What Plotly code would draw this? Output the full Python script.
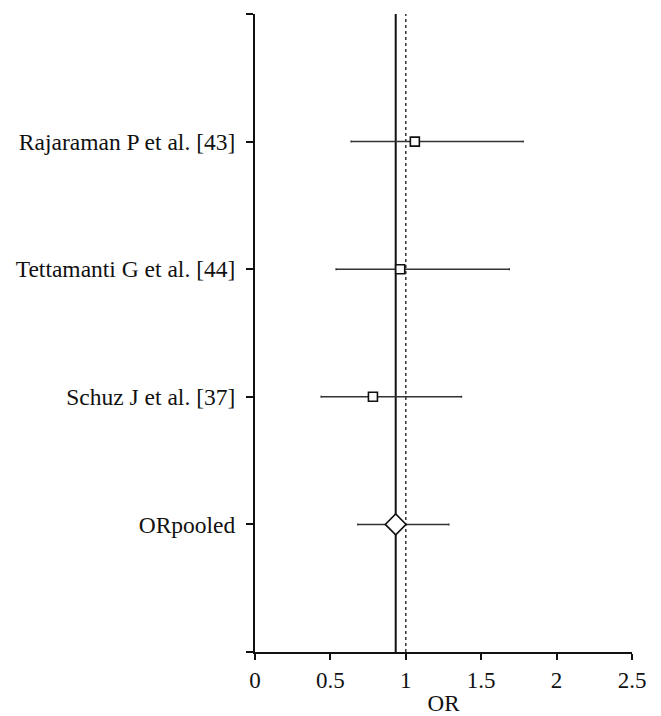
import plotly.graph_objects as go

studies = ["Rajaraman P et al. [43]", "Tettamanti G et al. [44]", "Schuz J et al. [37]"]
study_or = [1.06, 0.963, 0.782]
study_lo = [0.638, 0.538, 0.439]
study_hi = [1.778, 1.686, 1.369]
study_y = [4, 3, 2]

pooled_label = "ORpooled"
pooled_or = 0.933
pooled_lo = 0.682
pooled_hi = 1.285
pooled_y = 1

null_value = 1.0
x_ticks = [0, 0.5, 1, 1.5, 2, 2.5]
x_tick_labels = ["0", "0.5", "1", "1.5", "2", "2.5"]

font_family = "Liberation Serif, Times New Roman, serif"
fig = go.Figure()

# reference lines
fig.add_trace(go.Scatter(x=[pooled_or, pooled_or], y=[0, 5], mode="lines",
                         line=dict(color="#111111", width=2), hoverinfo="skip", showlegend=False))
fig.add_trace(go.Scatter(x=[null_value, null_value], y=[0, 5], mode="lines",
                         line=dict(color="#333333", width=1.5, dash="dot"), hoverinfo="skip", showlegend=False))

# studies
fig.add_trace(go.Scatter(
    x=study_or, y=study_y, mode="markers",
    marker=dict(symbol="square", size=9, color="white", line=dict(color="#111111", width=1.6)),
    error_x=dict(type="data", symmetric=False,
                 array=[h - o for h, o in zip(study_hi, study_or)],
                 arrayminus=[o - l for o, l in zip(study_or, study_lo)],
                 color="#333333", thickness=1.5, width=1),
    showlegend=False))

# pooled
fig.add_trace(go.Scatter(
    x=[pooled_or], y=[pooled_y], mode="markers",
    marker=dict(symbol="diamond", size=16, color="white", line=dict(color="#111111", width=1.6)),
    error_x=dict(type="data", symmetric=False,
                 array=[pooled_hi - pooled_or], arrayminus=[pooled_or - pooled_lo],
                 color="#333333", thickness=1.5, width=1),
    showlegend=False))

fig.update_layout(
    width=661, height=716,
    margin=dict(l=255, r=29, t=14, b=64),
    paper_bgcolor="white", plot_bgcolor="white",
    font=dict(family=font_family, size=23, color="#111111"),
    xaxis=dict(range=[0, 2.5], tickvals=x_ticks, ticktext=x_tick_labels, automargin=False,
               showgrid=False, zeroline=False, showline=True, linecolor="#111111", linewidth=2,
               ticks="outside", ticklen=6, tickwidth=2, tickcolor="#111111",
               title=dict(text="OR", standoff=10, font=dict(size=23))),
    yaxis=dict(range=[0, 5], tickvals=[0, 1, 2, 3, 4, 5], automargin=False,
               ticktext=["", pooled_label] + studies[::-1] + [""],
               ticklabelstandoff=6, tickfont=dict(size=23.5),
               showgrid=False, zeroline=False, showline=True, linecolor="#111111", linewidth=2,
               ticks="outside", ticklen=7, tickwidth=2, tickcolor="#111111"),
)

fig.write_html("out.html", post_script="document.body.style.margin='0';",
               config={"displayModeBar": False})
